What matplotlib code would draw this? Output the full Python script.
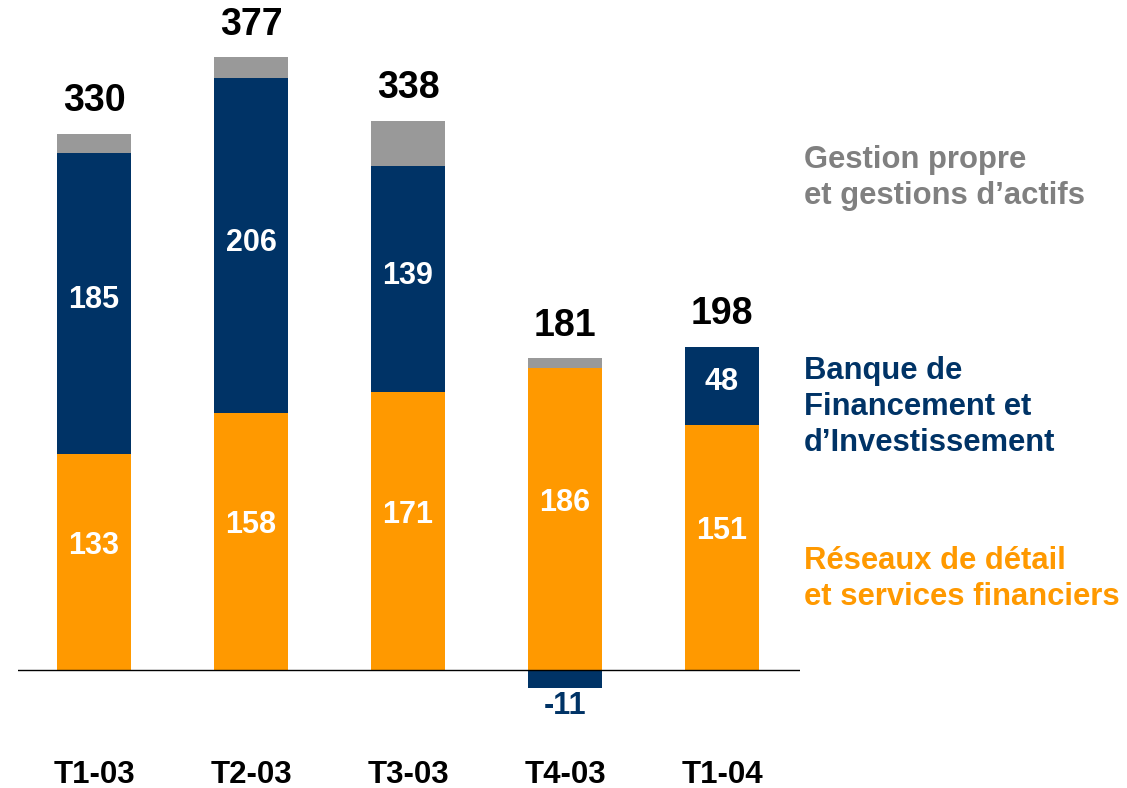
import matplotlib.pyplot as plt

plt.rcParams['font.family'] = ['Liberation Sans', 'DejaVu Sans']

quarters = ["T1-03", "T2-03", "T3-03", "T4-03", "T1-04"]
reseaux = [133, 158, 171, 186, 151]
bfi = [185, 206, 139, -11, 48]
gestion = [12, 13, 28, 6, 0]
totals = [330, 377, 338, 181, 198]

orange = "#FF9900"
navy = "#003366"
gray = "#999999"

fig = plt.figure(figsize=(11.27, 7.88), dpi=100)
ax = fig.add_axes([18 / 1127, 0, 782 / 1127, 1])
ax.set_xlim(-0.484, 4.497)
ax.set_ylim(-72.6, 412.3)
ax.axis("off")

x = range(len(quarters))
w = 0.47

# navy sits on orange when positive, below zero when negative
bfi_bottom = [r if b >= 0 else 0 for r, b in zip(reseaux, bfi)]
gest_bottom = [r + max(b, 0) for r, b in zip(reseaux, bfi)]

ax.bar(x, reseaux, width=w, color=orange)
ax.bar(x, bfi, width=w, bottom=bfi_bottom, color=navy)
ax.bar(x, gestion, width=w, bottom=gest_bottom, color=gray)
ax.axhline(0, color="black", lw=1)

for i in x:
    ax.text(i, reseaux[i] / 2 + 10, str(reseaux[i]), ha="center", va="center",
            color="white", fontsize=22, fontweight="bold")
    if bfi[i] >= 0:
        ax.text(i, reseaux[i] + bfi[i] / 2 + 2, str(bfi[i]), ha="center",
                va="center", color="white", fontsize=22, fontweight="bold")
    else:
        ax.text(i, bfi[i] - 11, str(bfi[i]), ha="center", va="center",
                color=navy, fontsize=22, fontweight="bold")
    top = gest_bottom[i] + gestion[i]
    ax.text(i, top + 20, str(totals[i]), ha="center", va="center",
            color="black", fontsize=27, fontweight="bold")
    ax.text(i, -64.6, quarters[i], ha="center", va="center",
            color="black", fontsize=22.5, fontweight="bold")

legend_items = [
    ("Gestion propre\net gestions d\u2019actifs", "#808080", 178),
    ("Banque de\nFinancement et\nd\u2019Investissement", navy, 407),
    ("R\u00e9seaux de d\u00e9tail\net services financiers", orange, 579),
]
for label, col, ypix in legend_items:
    fig.text(804 / 1127, 1 - ypix / 788, label, ha="left", va="center",
             color=col, fontsize=22.3, fontweight="bold", linespacing=1.28)

fig.savefig("out.png", dpi=100)
